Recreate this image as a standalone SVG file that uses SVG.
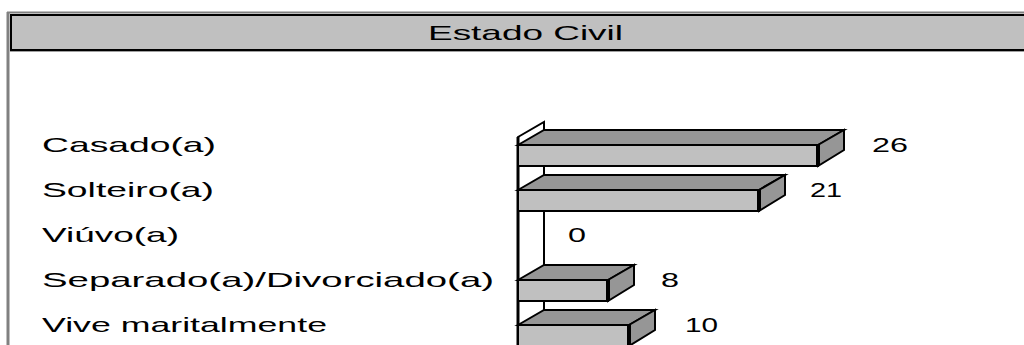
<svg xmlns="http://www.w3.org/2000/svg" width="1024" height="345" viewBox="0 0 1024 345">
<style>
.t{font-family:"Liberation Sans",Arial,sans-serif;font-size:21px;fill:#000}
.front{fill:#c0c0c0;stroke:#000;stroke-width:2;stroke-linejoin:miter}
.top{fill:#969696;stroke:#000;stroke-width:2}
.side{fill:#969696;stroke:#000;stroke-width:2}
.edge{stroke:#000;stroke-width:4}
</style>
<rect width="1024" height="345" fill="#fff"/>
<g id="frame">
<line x1="8" y1="12" x2="8" y2="345" stroke="#808080" stroke-width="3"/>
<line x1="7" y1="12.5" x2="1024" y2="12.5" stroke="#808080" stroke-width="2"/>
<rect x="11" y="15" width="1020" height="35" fill="#c0c0c0" stroke="#000" stroke-width="2"/>
<line x1="10" y1="51.5" x2="1024" y2="51.5" stroke="#a0a0a0" stroke-width="1"/>
<text class="t" x="428" y="40" textLength="195" lengthAdjust="spacingAndGlyphs">Estado Civil</text>
</g>
<g id="labels">
<text class="t" x="42" y="152" textLength="174" lengthAdjust="spacingAndGlyphs">Casado(a)</text>
<text class="t" x="42" y="197" textLength="172" lengthAdjust="spacingAndGlyphs">Solteiro(a)</text>
<text class="t" x="42" y="242" textLength="137" lengthAdjust="spacingAndGlyphs">Viúvo(a)</text>
<text class="t" x="42" y="287" textLength="452" lengthAdjust="spacingAndGlyphs">Separado(a)/Divorciado(a)</text>
<text class="t" x="42" y="332" textLength="285" lengthAdjust="spacingAndGlyphs">Vive maritalmente</text>
</g>
<g id="wall">
<polygon points="518,137 544,122 544,346 518,346" fill="#fff" stroke="#000" stroke-width="2"/>
<line x1="518" y1="137" x2="518" y2="346" stroke="#000" stroke-width="3"/>
</g>
<g id="bar-casado">
<polygon class="top" points="518,145 544,130 844,130 818,145"/>
<polygon class="side" points="818,145 844,130 844,150 818,166"/>
<rect class="front" x="518" y="145" width="300" height="21"/>
<line class="edge" x1="818" y1="145" x2="818" y2="166"/>
<text class="t" x="872" y="152" textLength="36" lengthAdjust="spacingAndGlyphs">26</text>
</g>
<g id="bar-solteiro">
<polygon class="top" points="518,190 544,175 785,175 759,190"/>
<polygon class="side" points="759,190 785,175 785,195 759,211"/>
<rect class="front" x="518" y="190" width="241" height="21"/>
<line class="edge" x1="759" y1="190" x2="759" y2="211"/>
<text class="t" x="810" y="197" textLength="32" lengthAdjust="spacingAndGlyphs">21</text>
</g>
<g id="bar-viuvo">
<text class="t" x="568" y="242" textLength="18" lengthAdjust="spacingAndGlyphs">0</text>
</g>
<g id="bar-separado">
<polygon class="top" points="518,280 544,265 634,265 608,280"/>
<polygon class="side" points="608,280 634,265 634,285 608,301"/>
<rect class="front" x="518" y="280" width="90" height="21"/>
<line class="edge" x1="608" y1="280" x2="608" y2="301"/>
<text class="t" x="661" y="287" textLength="18" lengthAdjust="spacingAndGlyphs">8</text>
</g>
<g id="bar-vive">
<polygon class="top" points="518,325 544,310 655,310 629,325"/>
<polygon class="side" points="629,325 655,310 655,330 629,346"/>
<rect class="front" x="518" y="325" width="111" height="21"/>
<line class="edge" x1="629" y1="325" x2="629" y2="346"/>
<text class="t" x="685" y="332" textLength="33" lengthAdjust="spacingAndGlyphs">10</text>
</g>
</svg>
